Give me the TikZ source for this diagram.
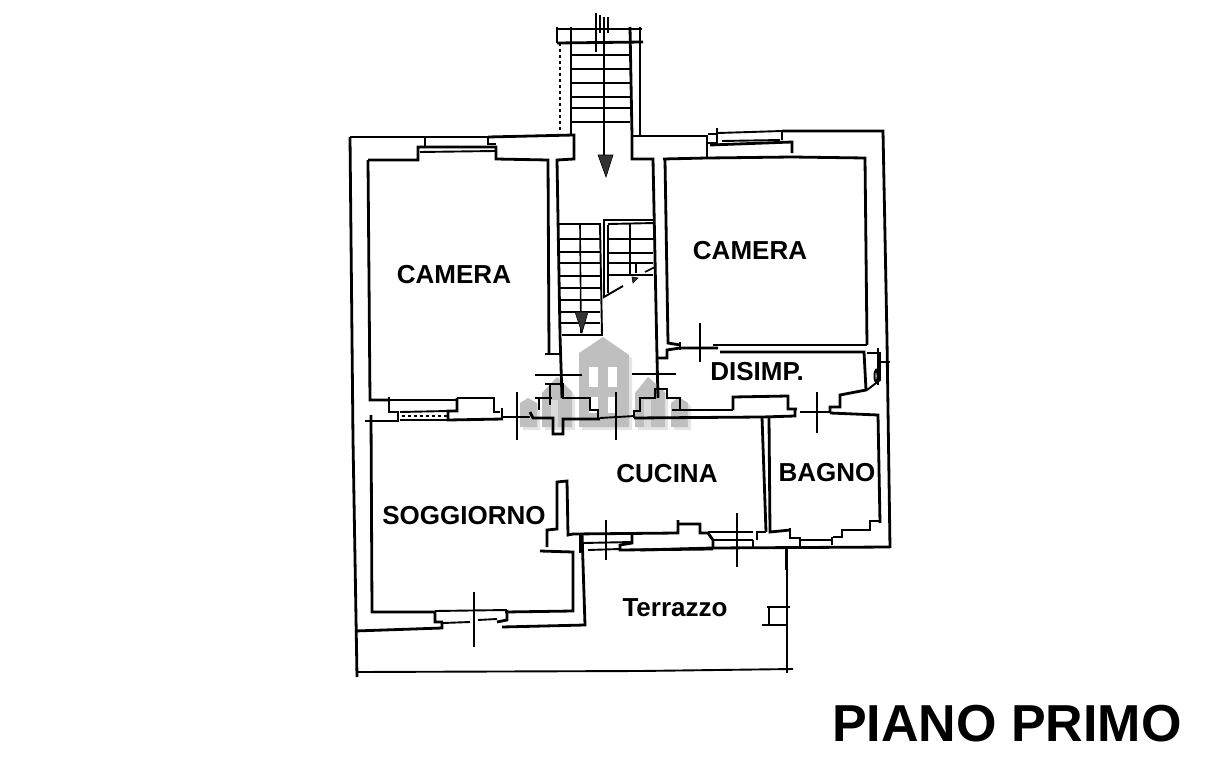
\documentclass[tikz,border=0pt]{standalone}
\usepackage{fontspec}
\setmainfont{Liberation Sans}
\tikzset{
  wall/.style={line width=2.8pt,line join=miter},
  fixture/.style={line width=1.9pt},
  tread/.style={line width=1.6pt},
  dimtick/.style={line width=1.8pt},
  logo/.style={fill=black!25,draw=none},
  logoshadow/.style={fill=black!10,draw=none,shift={(3,3)}},
  hole/.style={fill=white,draw=none},
  pale/.style={fill=black!14,draw=none},
  room/.style={font=\bfseries\fontsize{26}{28}\selectfont,inner sep=0pt},
  head/.style={fill=black!80,draw=black,line width=0.6pt}
}
\def\houses#1{
  \fill[#1] (579,353) -- (603,337) -- (629,355) -- (629,427) -- (579,427) -- cycle;
  \fill[#1] (542,393) -- (557,377) -- (572,392) -- (572,427) -- (542,427) -- cycle;
  \fill[#1] (520,403) -- (528,398) -- (537,403) -- (537,427) -- (520,427) -- cycle;
  \fill[#1] (635,393) -- (648,377) -- (665,392) -- (665,427) -- (635,427) -- cycle;
  \fill[#1] (671,403) -- (679,397) -- (688,403) -- (688,427) -- (671,427) -- cycle;
}
\begin{document}
\begin{tikzpicture}[x=1pt,y=-1pt]
  \useasboundingbox (0,0) rectangle (1207,768);

  % Watermark
  \houses{logoshadow}
  \houses{logo}
  \foreach \wx in {589,608} {
    \fill[hole] (\wx,367) rectangle (\wx+9,387);
    \fill[hole] (\wx,397) rectangle (\wx+9,413);
  }
  \foreach \wx in {551,644} {
    \fill[pale] (\wx,400) rectangle (\wx+7,427);
  }

  % Outer walls
  \draw[wall] (350,137) -- (353,440) -- (357,677);
  \draw[wall] (350,137) -- (425,137);
  \draw[wall] (488,137) -- (574,135) -- (574,159) -- (557,160) -- (560,335) -- (562,398);
  \draw[wall] (632,136) -- (632,159) -- (653,159) -- (657,357) -- (658,398);
  \draw[wall] (632,136) -- (707,136) -- (707,158);
  \draw[wall] (782,131) -- (883,131) -- (887,340) -- (890,548);
  \draw[wall] (355,631) -- (442,628) -- (442,622);
  \draw[wall] (502,627) -- (585,625) -- (582,533);
  \draw[wall] (640,550) -- (712,548) -- (890,547);

  % Left camera
  \draw[wall] (368,160) -- (418,160) -- (418,147) -- (496,147) -- (496,159) -- (548,160) -- (549,353);
  \draw[wall] (368,160) -- (370,400) -- (390,400);
  \draw[wall] (545,354) -- (560,354);
  \draw[fixture] (425,137) -- (425,146);
  \draw[fixture] (425,137) -- (488,137) -- (488,144) -- (496,144);
  \draw[fixture] (420,152) -- (495,151);

  % Right camera
  \draw[wall] (663,159) -- (707,158);
  \draw[wall] (707,158) -- (792,157) -- (865,158) -- (867,345);
  \draw[wall] (665,160) -- (668,343) -- (680,345);
  \draw[wall] (710,145) -- (792,142) -- (792,153);
  \draw[wall] (717,128) -- (717,143) -- (707,143);
  \draw[fixture] (708,134) -- (717,134);
  \draw[fixture] (718,133) -- (782,131) -- (782,140);
  \draw[fixture] (722,141) -- (780,140);

  % Disimpegno
  \draw[wall] (657,358) -- (667,358) -- (667,350) -- (680,348) -- (718,348);
  \draw[wall] (680,342) -- (680,350);
  \draw[wall] (713,345) -- (867,345);
  \draw[wall] (720,352) -- (864,352) -- (866,390) -- (840,395) -- (840,407) -- (830,407) -- (830,413);
  \draw[fixture] (867,353) -- (880,353) -- (880,380) -- (867,390);
  \draw[fixture] (878,348) -- (878,385);
  \draw[fixture] (880,362) -- (890,362);
  \draw[fixture] (876,376) ellipse (1.5 and 6);
  \draw[wall] (733,410) -- (733,397) -- (788,396) -- (788,409) -- (797,409);
  \draw[wall] (672,410) -- (733,410);

  % Middle wall
  \draw[wall] (365,421) -- (398,421) -- (398,412) -- (389,412) -- (389,397);
  \draw[wall] (390,400) -- (457,400);
  \draw[wall] (457,398) -- (457,411) -- (448,411) -- (448,420) -- (503,419);
  \draw[wall] (457,398) -- (494,398) -- (494,412) -- (500,412);
  \draw[wall] (502,408) -- (502,419);
  \draw[fixture] (400,412) -- (448,411);
  \draw[fixture,dashed] (402,416) -- (447,416);
  \draw[fixture] (400,420) -- (448,420);
  \draw[fixture] (503,417) -- (530,417);
  \draw[wall] (539,397) -- (539,410);
  \draw[wall] (535,398) -- (552,398);
  \draw[wall] (550,385) -- (550,405);
  \draw[wall] (545,384) -- (563,384) -- (563,398) -- (590,398) -- (590,410) -- (598,410) -- (598,418);
  \draw[wall] (530,412) -- (533,418) -- (553,418) -- (553,434) -- (563,434) -- (563,419) -- (600,419);
  \draw[fixture] (600,418) -- (635,416);
  \draw[wall] (634,418) -- (634,411) -- (640,411) -- (640,398) -- (655,398) -- (655,389) -- (667,389) -- (667,398) -- (680,398) -- (680,410) -- (688,410);
  \draw[wall] (634,418) -- (762,417) -- (795,416) -- (795,410);
  \draw[fixture] (800,412) -- (830,412);

  % Bagno
  \draw[wall] (762,417) -- (766,532);
  \draw[wall] (769,418) -- (770,532) -- (790,530);
  \draw[wall] (790,528) -- (790,538) -- (800,538) -- (800,547);
  \draw[wall] (832,537) -- (832,545);
  \draw[wall] (833,537) -- (842,537) -- (842,530) -- (870,530) -- (870,521) -- (880,521);
  \draw[wall] (830,413) -- (878,415) -- (880,523);
  \draw[fixture] (800,540) -- (832,540);

  % Soggiorno and cucina
  \draw[wall] (371,415) -- (372,612) -- (435,612) -- (435,622) -- (443,622);
  \draw[wall] (505,612) -- (573,611) -- (573,552) -- (540,551);
  \draw[wall] (507,610) -- (507,620) -- (497,622);
  \draw[fixture] (435,611) -- (507,610);
  \draw[fixture] (443,623) -- (470,622);
  \draw[fixture] (478,620) -- (497,619);
  \draw[wall] (547,547) -- (547,530) -- (557,529) -- (557,482) -- (567,481) -- (568,535) -- (573,534);
  \draw[wall] (573,534) -- (678,533) -- (678,520);
  \draw[wall] (678,524) -- (700,524) -- (700,533) -- (708,533) -- (713,540) -- (713,548);
  \draw[wall] (580,535) -- (580,553);
  \draw[wall] (632,535) -- (632,543) -- (620,545) -- (620,550) -- (713,549);
  \draw[fixture] (583,543) -- (632,542);
  \draw[fixture] (588,550) -- (620,549);
  \draw[fixture] (708,532) -- (753,532);
  \draw[fixture] (713,540) -- (753,540);
  \draw[wall] (753,540) -- (753,547);
  \draw[wall] (757,540) -- (757,532) -- (766,532);

  % Terrazzo
  \draw[fixture] (357,672) -- (640,671) -- (793,669);
  \draw[fixture] (787,547) -- (787,673);
  \draw[wall] (767,607) -- (790,607);
  \draw[wall] (769,607) -- (769,625);
  \draw[wall] (762,625) -- (787,625);

  % Outer stairs
  \draw[wall] (557,29) -- (642,29);
  \draw[wall] (557,43) -- (643,42);
  \draw[wall] (557,27) -- (557,43);
  \draw[wall] (571,27) -- (571,135);
  \draw[wall] (630,27) -- (632,136);
  \draw[wall] (640,27) -- (640,135);
  \draw[tread,dashed] (560,43) -- (560,132);
  \foreach \ty in {55,69,83,97,108,122} {
    \draw[tread] (571,\ty) -- (630,\ty);
  }
  \draw[fixture] (604,17) -- (604,157);
  \draw[tread] (596,13) -- (596,52);
  \draw[tread] (600,15) -- (600,33);
  \draw[tread] (608,17) -- (608,33);
  \draw[head] (598,155) -- (613,155) -- (606,177) -- cycle;

  % Inner stairs
  \draw[fixture] (557,224) -- (600,224) -- (602,335) -- (562,335);
  \draw[tread] (580,224) -- (581,333);
  \foreach \ty in {239,252,263,276,288,300,312,323} {
    \draw[tread] (560,\ty) -- (600,\ty);
  }
  \draw[head] (575,312) -- (588,312) -- (582,333) -- cycle;
  \draw[fixture] (603,220) -- (655,220);
  \draw[fixture] (608,224) -- (655,223);
  \draw[fixture] (604,220) -- (604,297) -- (623,286);
  \draw[tread] (608,225) -- (608,293);
  \draw[tread] (645,272) -- (655,267);
  \draw[tread] (630,224) -- (630,275);
  \foreach \ty in {239,253,263,275} {
    \draw[tread] (608,\ty) -- (653,\ty);
  }
  \draw[tread] (636,262) -- (636,273);
  \draw[head] (632,277) -- (638,278) -- (633,283) -- cycle;

  % Section ticks
  \draw[dimtick] (535,375) -- (582,375);
  \draw[dimtick] (632,374) -- (676,374);
  \draw[dimtick] (517,392) -- (517,440);
  \draw[dimtick] (616,392) -- (616,440);
  \draw[dimtick] (700,323) -- (700,362);
  \draw[dimtick] (817,392) -- (817,433);
  \draw[dimtick] (606,520) -- (606,560);
  \draw[dimtick] (737,513) -- (737,567);
  \draw[dimtick] (786,547) -- (786,570);
  \draw[dimtick] (474,592) -- (474,647);

  % Labels
  \node[room] (cameraL) at (454,275) {CAMERA};
  \node[room] (cameraR) at (750,251) {CAMERA};
  \node[room] (disimp) at (757,372) {DISIMP.};
  \node[room] (cucina) at (667,474) {CUCINA};
  \node[room] (bagno) at (827,473) {BAGNO};
  \node[room] (soggiorno) at (464,516) {SOGGIORNO};
  \node[room] (terrazzo) at (675,608) {Terrazzo};
  \node[font=\bfseries\fontsize{52}{56}\selectfont,inner sep=0pt] (piano) at (1007,724) {PIANO PRIMO};
\end{tikzpicture}
\end{document}
